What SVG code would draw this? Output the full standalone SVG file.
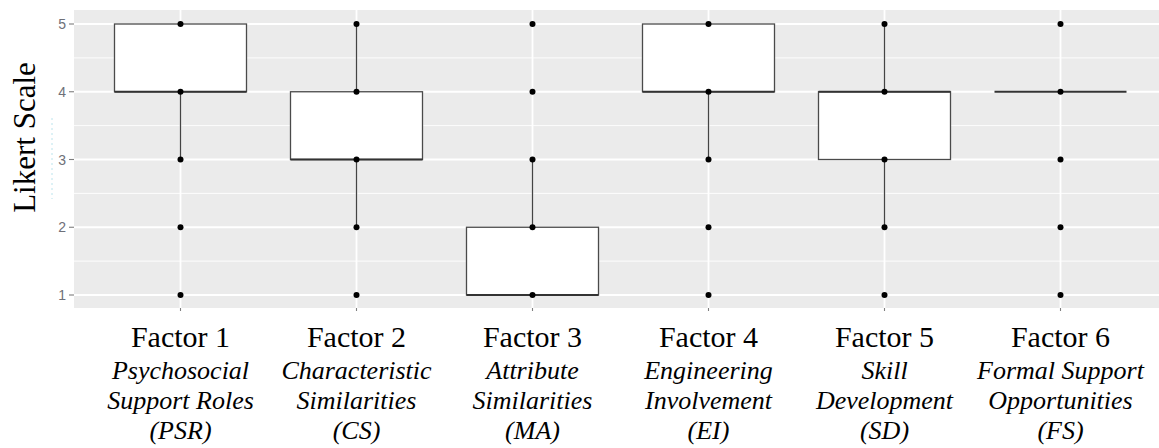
<svg xmlns="http://www.w3.org/2000/svg" width="1159" height="448" viewBox="0 0 1159 448">
  <style>
    .panel { fill: #EBEBEB; }
    .gmaj { stroke: #FFFFFF; stroke-width: 1.8; }
    .gmin { stroke: #FFFFFF; stroke-width: 0.9; }
    .tick { stroke: #7F7F7F; stroke-width: 1.1; }
    .ylab { font-family: "Liberation Sans", Arial, sans-serif; font-size: 14px; fill: #6E7078; text-anchor: end; }
    .box { fill: #FFFFFF; stroke: #4A4A4A; stroke-width: 1.3; }
    .med { stroke: #333333; stroke-width: 2.2; }
    .whisk { stroke: #444444; stroke-width: 1.3; }
    .pt { fill: #000000; }
    .title { font-family: "Liberation Serif", "Times New Roman", serif; font-size: 31px; fill: #000; }
    .fac { font-family: "Liberation Serif", "Times New Roman", serif; font-size: 30px; fill: #000; text-anchor: middle; }
    .sub { font-family: "Liberation Serif", "Times New Roman", serif; font-size: 26px; font-style: italic; fill: #000; text-anchor: middle; }
  </style>
  <defs>
    <circle id="dot" r="3" class="pt"/>
  </defs>

  <rect x="0" y="0" width="1159" height="448" fill="#FFFFFF"/>

  <!-- plot panel and grid -->
  <g id="panel">
    <rect class="panel" x="74" y="10" width="1085" height="298"/>
    <line class="gmin" x1="74" x2="1159" y1="57.9" y2="57.9"/>
    <line class="gmin" x1="74" x2="1159" y1="125.6" y2="125.6"/>
    <line class="gmin" x1="74" x2="1159" y1="193.4" y2="193.4"/>
    <line class="gmin" x1="74" x2="1159" y1="261.1" y2="261.1"/>
    <line class="gmaj" x1="74" x2="1159" y1="24" y2="24"/>
    <line class="gmaj" x1="74" x2="1159" y1="91.75" y2="91.75"/>
    <line class="gmaj" x1="74" x2="1159" y1="159.5" y2="159.5"/>
    <line class="gmaj" x1="74" x2="1159" y1="227.25" y2="227.25"/>
    <line class="gmaj" x1="74" x2="1159" y1="295" y2="295"/>
    <line class="gmaj" x1="180.5" x2="180.5" y1="10" y2="308"/>
    <line class="gmaj" x1="356.5" x2="356.5" y1="10" y2="308"/>
    <line class="gmaj" x1="532.5" x2="532.5" y1="10" y2="308"/>
    <line class="gmaj" x1="708.5" x2="708.5" y1="10" y2="308"/>
    <line class="gmaj" x1="884.5" x2="884.5" y1="10" y2="308"/>
    <line class="gmaj" x1="1060.5" x2="1060.5" y1="10" y2="308"/>
  </g>

  <!-- y axis -->
  <g id="y-axis">
    <line class="tick" x1="69" x2="74" y1="24" y2="24"/>
    <line class="tick" x1="69" x2="74" y1="91.75" y2="91.75"/>
    <line class="tick" x1="69" x2="74" y1="159.5" y2="159.5"/>
    <line class="tick" x1="69" x2="74" y1="227.25" y2="227.25"/>
    <line class="tick" x1="69" x2="74" y1="295" y2="295"/>
    <text class="ylab" x="66" y="29">5</text>
    <text class="ylab" x="66" y="96.75">4</text>
    <text class="ylab" x="66" y="164.5">3</text>
    <text class="ylab" x="66" y="232.25">2</text>
    <text class="ylab" x="66" y="300">1</text>
    <line x1="52" x2="52" y1="118" y2="199" stroke="#A9DDE8" stroke-width="0.8" stroke-dasharray="2 3"/>
    <text class="title" transform="translate(35 137.5) rotate(-90)" text-anchor="middle">Likert Scale</text>
  </g>

  <!-- x axis ticks -->
  <g id="x-axis">
    <line class="tick" x1="180.5" x2="180.5" y1="308" y2="311"/>
    <line class="tick" x1="356.5" x2="356.5" y1="308" y2="311"/>
    <line class="tick" x1="532.5" x2="532.5" y1="308" y2="311"/>
    <line class="tick" x1="708.5" x2="708.5" y1="308" y2="311"/>
    <line class="tick" x1="884.5" x2="884.5" y1="308" y2="311"/>
    <line class="tick" x1="1060.5" x2="1060.5" y1="308" y2="311"/>
  </g>

  <!-- whiskers -->
  <g id="connectors">
    <line class="whisk" x1="180.5" x2="180.5" y1="91.75" y2="159.5"/>
    <line class="whisk" x1="356.5" x2="356.5" y1="24" y2="91.75"/>
    <line class="whisk" x1="356.5" x2="356.5" y1="159.5" y2="227.25"/>
    <line class="whisk" x1="532.5" x2="532.5" y1="159.5" y2="227.25"/>
    <line class="whisk" x1="708.5" x2="708.5" y1="91.75" y2="159.5"/>
    <line class="whisk" x1="884.5" x2="884.5" y1="24" y2="91.75"/>
    <line class="whisk" x1="884.5" x2="884.5" y1="159.5" y2="227.25"/>
  </g>

  <!-- Factor 1 -->
  <g id="factor1">
    <rect class="box" x="114.5" y="24" width="132" height="67.75"/>
    <line class="med" x1="114.5" x2="246.5" y1="91.75" y2="91.75"/>
    <use href="#dot" x="180.5" y="24"/><use href="#dot" x="180.5" y="91.75"/><use href="#dot" x="180.5" y="159.5"/><use href="#dot" x="180.5" y="227.25"/><use href="#dot" x="180.5" y="295"/>
    <text class="fac" x="180.5" y="347">Factor 1</text>
    <text class="sub" x="180.5" y="379">Psychosocial</text>
    <text class="sub" x="180.5" y="409">Support Roles</text>
    <text class="sub" x="180.5" y="439">(PSR)</text>
  </g>

  <!-- Factor 2 -->
  <g id="factor2">
    <rect class="box" x="290.5" y="91.75" width="132" height="67.75"/>
    <line class="med" x1="290.5" x2="422.5" y1="159.5" y2="159.5"/>
    <use href="#dot" x="356.5" y="24"/><use href="#dot" x="356.5" y="91.75"/><use href="#dot" x="356.5" y="159.5"/><use href="#dot" x="356.5" y="227.25"/><use href="#dot" x="356.5" y="295"/>
    <text class="fac" x="356.5" y="347">Factor 2</text>
    <text class="sub" x="356.5" y="379">Characteristic</text>
    <text class="sub" x="356.5" y="409">Similarities</text>
    <text class="sub" x="356.5" y="439">(CS)</text>
  </g>

  <!-- Factor 3 -->
  <g id="factor3">
    <rect class="box" x="466.5" y="227.25" width="132" height="67.75"/>
    <line class="med" x1="466.5" x2="598.5" y1="295" y2="295"/>
    <use href="#dot" x="532.5" y="24"/><use href="#dot" x="532.5" y="91.75"/><use href="#dot" x="532.5" y="159.5"/><use href="#dot" x="532.5" y="227.25"/><use href="#dot" x="532.5" y="295"/>
    <text class="fac" x="532.5" y="347">Factor 3</text>
    <text class="sub" x="532.5" y="379">Attribute</text>
    <text class="sub" x="532.5" y="409">Similarities</text>
    <text class="sub" x="532.5" y="439">(MA)</text>
  </g>

  <!-- Factor 4 -->
  <g id="factor4">
    <rect class="box" x="642.5" y="24" width="132" height="67.75"/>
    <line class="med" x1="642.5" x2="774.5" y1="91.75" y2="91.75"/>
    <use href="#dot" x="708.5" y="24"/><use href="#dot" x="708.5" y="91.75"/><use href="#dot" x="708.5" y="159.5"/><use href="#dot" x="708.5" y="227.25"/><use href="#dot" x="708.5" y="295"/>
    <text class="fac" x="708.5" y="347">Factor 4</text>
    <text class="sub" x="708.5" y="379">Engineering</text>
    <text class="sub" x="708.5" y="409">Involvement</text>
    <text class="sub" x="708.5" y="439">(EI)</text>
  </g>

  <!-- Factor 5 -->
  <g id="factor5">
    <rect class="box" x="818.5" y="91.75" width="132" height="67.75"/>
    <line class="med" x1="818.5" x2="950.5" y1="91.75" y2="91.75"/>
    <use href="#dot" x="884.5" y="24"/><use href="#dot" x="884.5" y="91.75"/><use href="#dot" x="884.5" y="159.5"/><use href="#dot" x="884.5" y="227.25"/><use href="#dot" x="884.5" y="295"/>
    <text class="fac" x="884.5" y="347">Factor 5</text>
    <text class="sub" x="884.5" y="379">Skill</text>
    <text class="sub" x="884.5" y="409">Development</text>
    <text class="sub" x="884.5" y="439">(SD)</text>
  </g>

  <!-- Factor 6 -->
  <g id="factor6">
    <line class="med" x1="994.5" x2="1126.5" y1="91.75" y2="91.75"/>
    <use href="#dot" x="1060.5" y="24"/><use href="#dot" x="1060.5" y="91.75"/><use href="#dot" x="1060.5" y="159.5"/><use href="#dot" x="1060.5" y="227.25"/><use href="#dot" x="1060.5" y="295"/>
    <text class="fac" x="1060.5" y="347">Factor 6</text>
    <text class="sub" x="1060.5" y="379">Formal Support</text>
    <text class="sub" x="1060.5" y="409">Opportunities</text>
    <text class="sub" x="1060.5" y="439">(FS)</text>
  </g>
</svg>
